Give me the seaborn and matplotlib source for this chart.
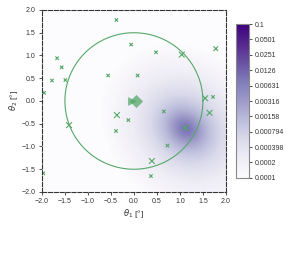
import numpy as np
import seaborn as sns
import matplotlib.pyplot as plt
from matplotlib.colors import LogNorm

# sample positions (deg) and relative weights
theta1 = [-0.38, -0.06, 0.48, 1.04, 1.78, -1.67, -1.57, -1.78, -1.49, -1.95,
          -0.56, 0.08, -0.37, -0.12, -0.39, -1.41, 0.65, 1.12, 1.55, 1.72,
          1.645, 0.73, 0.39, 0.37, -1.97]
theta2 = [1.78, 1.24, 1.07, 1.02, 1.15, 0.94, 0.74, 0.45, 0.46, 0.18,
          0.56, 0.56, -0.31, -0.42, -0.66, -0.53, -0.23, -0.59, 0.06, 0.09,
          -0.26, -0.98, -1.32, -1.65, -1.59]
weight = [1, 1, 1, 2, 1.5, 1, 1, 1, 1, 1,
          1, 1, 2, 1, 1, 2, 1, 2, 2, 1,
          2, 1, 2, 1, 1]

# posterior density blob (heavy-tailed bump)
peak_center = (1.14, -0.6)
peak_width = 0.18
peak_value = 0.009
circle_radius = 1.5
cbar_ticks = [0.0001, 0.0002, 0.000398, 0.000794, 0.00158, 0.00316,
              0.00631, 0.0126, 0.0251, 0.0501, 0.1]

sns.set_theme(style="ticks")
plt.rcParams['font.family'] = ['Liberation Sans', 'DejaVu Sans']
plt.rcParams['mathtext.fontset'] = 'dejavusans'

green = sns.color_palette("deep")[2]

fig = plt.figure(figsize=(2.93, 2.56), dpi=100)
ax = fig.add_axes([0.143, 0.25, 0.628, 0.711])
cax = fig.add_axes([0.805, 0.305, 0.044, 0.601])

g = np.linspace(-2, 2, 300)
X, Y = np.meshgrid(g, g)
u = ((X - peak_center[0]) - (Y - peak_center[1])) / np.sqrt(2)
v = ((X - peak_center[0]) + (Y - peak_center[1])) / np.sqrt(2)
R2 = (u / 1.2) ** 2 + v ** 2
Z = peak_value / (1 + R2 / peak_width ** 2)
Z = np.clip(Z, 1e-7, None)
mesh = ax.pcolormesh(X, Y, Z, cmap="Purples", norm=LogNorm(1e-4, 0.1),
                     shading="gouraud", rasterized=True)

t = np.linspace(0, 2 * np.pi, 300)
ax.plot(circle_radius * np.cos(t), circle_radius * np.sin(t), color=green, lw=0.8)

w = np.array(weight)
x = np.array(theta1)
y = np.array(theta2)
sns.scatterplot(x=x, y=y, size=w, sizes=(6, 17), marker="x", color=green,
                linewidth=0.8, legend=False, ax=ax)

ax.scatter([-0.05], [0.0], marker=">", s=40, color=green, alpha=0.75, lw=0)
ax.scatter([0.04], [0.0], marker="D", s=45, color=green, alpha=0.75, lw=0)

ax.set_xlim(-2, 2)
ax.set_ylim(-2, 2)
ax.set_xticks(np.arange(-2, 2.01, 0.5))
ax.set_yticks(np.arange(-2, 2.01, 0.5))
ax.tick_params(labelsize=5, length=2.5, width=0.6, pad=2, colors="#333333")
for s in ax.spines.values():
    s.set_linestyle("--")
    s.set_linewidth(0.8)
    s.set_edgecolor("#333333")
    s.set_visible(True)
ax.set_xlabel(r"$\theta_1$ [°]", fontsize=6, labelpad=1, color="#333333")
ax.set_ylabel(r"$\theta_2$ [°]", fontsize=6, labelpad=1, color="#333333")

cb = fig.colorbar(mesh, cax=cax)
cb.set_ticks(cbar_ticks)
cb.set_ticklabels(["%.3g" % v for v in cbar_ticks])
cb.minorticks_off()
cax.tick_params(labelsize=5, length=2.5, width=0.6, pad=2, colors="#333333")
cb.outline.set_edgecolor("#888888")
cb.outline.set_linewidth(0.8)

fig.savefig("out.png", dpi=100)
